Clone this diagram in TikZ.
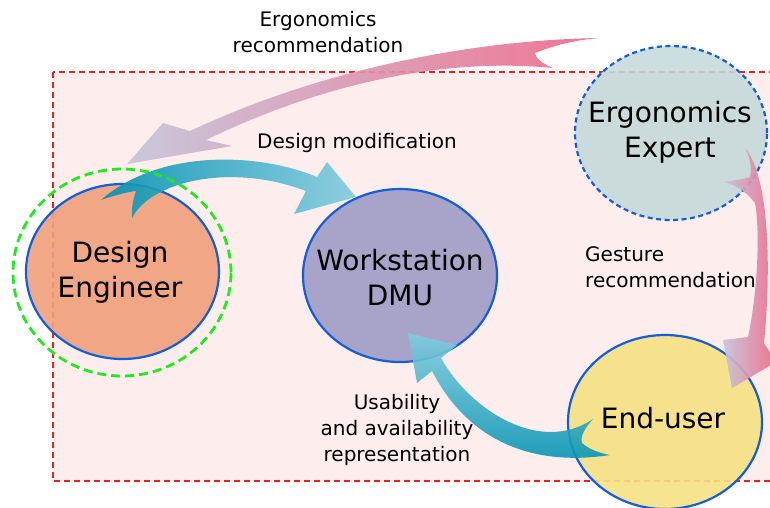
\documentclass[tikz,border=0pt]{standalone}
\usepackage{fontspec}
\setmainfont{DejaVu Sans}
\usetikzlibrary{shapes.geometric}
\definecolor{bgpink}{RGB}{253,237,237}
\definecolor{dered}{RGB}{238,30,30}
\definecolor{salmon}{RGB}{240,160,123}
\definecolor{dmucol}{RGB}{158,155,198}
\definecolor{ergcol}{RGB}{198,218,218}
\definecolor{endcol}{RGB}{246,225,130}
\definecolor{rimblue}{RGB}{20,95,215}
\definecolor{dashgreen}{RGB}{30,235,30}
\definecolor{arrpink}{RGB}{239,105,137}
\definecolor{arrmauve}{RGB}{222,145,170}
\definecolor{arrgray}{RGB}{198,197,218}
\definecolor{tealdark}{RGB}{0,145,178}
\definecolor{teallight}{RGB}{130,204,222}
\begin{document}
\begin{tikzpicture}[x=1pt,y=-1pt,
  bubble/.style={ellipse, draw=rimblue, line width=2.2pt, inner sep=0pt, fill opacity=0.9},
  bigtxt/.style={font=\fontsize{28}{35}\selectfont, align=center, inner sep=0pt},
  smalltxt/.style={font=\fontsize{20}{26}\selectfont, align=center, inner sep=0pt},
  pinkarrow/.style={opacity=0.92},
  tealarrow/.style={opacity=0.9}]
\useasboundingbox (0,0) rectangle (770,507);
\clip (0,0) rectangle (770,507);
% frame
\fill[bgpink] (53,72) rectangle (800,481);
\draw[dered, line width=2pt, dash pattern=on 6pt off 4pt] (53,72) rectangle (800,481);
% actors
\node[bubble, fill=salmon, minimum width=193pt, minimum height=175pt] (de) at (122.5,271.5) {};
\node[bubble, fill=dmucol, minimum width=194pt, minimum height=173pt] (dmu) at (400,275.5) {};
\node[bubble, dash pattern=on 5pt off 3.5pt, fill=ergcol, minimum width=192pt, minimum height=174pt] (ee) at (671,133) {};
\node[bubble, fill=endcol, minimum width=194pt, minimum height=174pt] (eu) at (665,422) {};
% arrow 1: ergonomics recommendation
\shade[pinkarrow, left color=arrgray, middle color=arrmauve, right color=arrpink]
  (600,38) .. controls (470,40) and (320,70) .. (190,131)
  -- (163,123) -- (127,164) -- (232,146) -- (206,140)
  .. controls (330,80) and (450,58) .. (553,68)
  .. controls (541,63) and (536,58) .. (535,53)
  .. controls (555,45) and (575,40) .. (600,38) -- cycle;
% arrow 2: design modification
\shade[tealarrow, left color=tealdark, middle color=tealdark, right color=teallight]
  (101,200) .. controls (115,195) and (128,192) .. (136,191)
  .. controls (133,200) and (131,210) .. (132,218)
  .. controls (150,182) and (230,162) .. (306,191)
  -- (294,214) -- (356,197) -- (327,162) -- (317,177)
  .. controls (260,153) and (160,148) .. (101,200) -- cycle;
% arrow 3: usability
\shade[tealarrow, top color=teallight, bottom color=tealdark]
  (593,419) .. controls (585,428) and (580,436) .. (582,443)
  .. controls (590,450) and (600,453) .. (610,455)
  .. controls (525,468) and (465,435) .. (432,371)
  -- (417,383) -- (408,333) -- (457,345) -- (441,358)
  .. controls (470,410) and (540,455) .. (593,419) -- cycle;
% arrow 4: gesture recommendation
\shade[pinkarrow, left color=arrgray, right color=arrpink]
  (745,148) .. controls (768,175) and (772,260) .. (764,343)
  -- (776,362) -- (732,388) -- (723,340) -- (748,337)
  .. controls (758,290) and (760,230) .. (755,203)
  .. controls (745,190) and (733,184) .. (723,182)
  .. controls (735,180) and (745,179) .. (750,177)
  .. controls (752,168) and (750,157) .. (745,148) -- cycle;
% green dashed highlight
\node[draw=dashgreen, ellipse, line width=2.8pt, dash pattern=on 9pt off 5pt, inner sep=0pt,
  minimum width=218pt, minimum height=207pt] (hl) at (122,272.5) {};
% texts
\node[bigtxt] (detxt) at (120,272) {Design\\Engineer};
\node[bigtxt] (dmutxt) at (400,278) {Workstation\\DMU};
\node[bigtxt] (eetxt) at (670,132) {Ergonomics\\Expert};
\node[bigtxt] (eutxt) at (663,418) {End-user};
\node[smalltxt] (l1) at (318,32) {Ergonomics\\recommendation};
\node[smalltxt] (l2) at (357,143) {Design modification};
\node[smalltxt, anchor=west, align=left] (l3) at (585,267) {Gesture\\recommendation};
\node[smalltxt] (l4) at (397,430) {Usability\\and availability\\representation};
\end{tikzpicture}
\end{document}
